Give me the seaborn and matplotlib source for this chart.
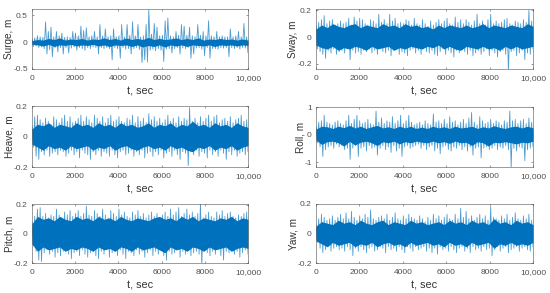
import numpy as np
import pandas as pd
import matplotlib
matplotlib.use("Agg")
import matplotlib.pyplot as plt
import seaborn as sns

# Peak values, one per 125 s of record
surge_up = [.06,.08,.12,.1,.09,.38,.2,.28,.1,.2,.12,.17,.09,.1,.09,.2,.17,.12,.3,.22,.27,.1,.12,.2,.1,.33,.12,.25,.1,.12,.25,.1,.12,.33,.1,.33,.13,.38,.12,.33,.1,.12,.33,.6,.15,.35,.28,.12,.13,.4,.45,.12,.1,.2,.13,.33,.3,.13,.28,.12,.1,.33,.13,.2,.12,.4,.12,.1,.2,.1,.12,.1,.1,.25,.1,.12,.2,.1,.35,.1]
surge_dn = [-.08,-.07,-.1,-.09,-.12,-.22,-.14,-.27,-.1,-.18,-.1,-.22,-.1,-.2,-.11,-.09,-.15,-.1,-.12,-.15,-.1,-.12,-.09,-.1,-.22,-.1,-.12,-.1,-.12,-.33,-.1,-.12,-.3,-.1,-.13,-.12,-.22,-.12,-.1,-.14,-.38,-.33,-.37,-.15,-.13,-.16,-.12,-.15,-.36,-.13,-.12,-.2,-.12,-.1,-.22,-.11,-.12,-.1,-.3,-.22,-.11,-.1,-.13,-.25,-.1,-.3,-.12,-.12,-.13,-.1,-.11,-.1,-.27,-.1,-.12,-.1,-.13,-.1,-.11,-.2]
sway_up = [.09,.11,.13,.16,.1,.12,.13,.09,.1,.12,.1,.11,.14,.09,.15,.12,.14,.13,.1,.09,.13,.12,.1,.17,.11,.13,.1,.17,.12,.14,.1,.11,.1,.13,.12,.09,.14,.1,.09,.13,.1,.08,.12,.09,.11,.13,.1,.12,.14,.1,.09,.15,.11,.13,.1,.13,.11,.09,.12,.17,.1,.12,.09,.13,.17,.1,.12,.1,.11,.13,.14,.1,.09,.12,.11,.1,.13,.11,.2,.12]
sway_dn = [-.09,-.11,-.13,-.16,-.1,-.12,-.09,-.13,-.11,-.1,-.12,-.09,-.17,-.1,-.12,-.11,-.13,-.1,-.11,-.09,-.12,-.1,-.13,-.09,-.11,-.12,-.1,-.14,-.1,-.09,-.13,-.11,-.12,-.14,-.1,-.09,-.12,-.1,-.13,-.09,-.11,-.12,-.1,-.13,-.14,-.11,-.09,-.13,-.1,-.12,-.15,-.1,-.12,-.09,-.11,-.13,-.1,-.14,-.12,-.1,-.13,-.11,-.09,-.14,-.1,-.12,-.15,-.11,-.1,-.13,-.26,-.11,-.1,-.14,-.12,-.1,-.17,-.12,-.13,-.09]
heave_up = [.07,.13,.14,.11,.09,.12,.1,.08,.13,.11,.09,.12,.14,.1,.13,.09,.1,.12,.14,.1,.13,.11,.09,.14,.12,.1,.13,.09,.12,.14,.1,.11,.13,.1,.09,.12,.11,.14,.09,.13,.1,.12,.09,.15,.11,.13,.1,.12,.09,.11,.14,.1,.12,.09,.13,.1,.12,.11,.19,.1,.12,.09,.13,.1,.12,.14,.1,.13,.14,.09,.11,.12,.1,.13,.09,.11,.12,.14,.1,.11]
heave_dn = [-.07,-.13,-.15,-.1,-.12,-.09,-.13,-.11,-.1,-.12,-.09,-.1,-.13,-.11,-.09,-.12,-.1,-.14,-.09,-.11,-.12,-.15,-.1,-.12,-.09,-.13,-.1,-.11,-.13,-.09,-.12,-.14,-.1,-.09,-.12,-.11,-.09,-.13,-.1,-.12,-.09,-.14,-.11,-.1,-.13,-.1,-.12,-.09,-.14,-.11,-.1,-.13,-.09,-.12,-.15,-.1,-.11,-.19,-.1,-.12,-.09,-.13,-.1,-.11,-.14,-.09,-.12,-.1,-.13,-.09,-.11,-.15,-.1,-.12,-.09,-.13,-.11,-.1,-.12,-.1]
roll_up = [.3,.45,.5,.7,.45,.4,.35,.45,.5,.4,.35,.5,.7,.4,.55,.7,.5,.4,.45,.55,.4,.35,.85,.45,.6,.4,.5,.45,.65,.4,.5,.7,.4,.5,.7,.45,.35,.4,.45,.35,.5,.4,.35,.75,.45,.5,.4,.55,.4,.65,.45,.5,.35,.45,.55,.4,.6,.8,.45,.35,.65,.5,.4,.45,.55,.4,.5,.45,.35,.5,.45,.85,.5,.55,.4,.5,.55,.4,.6,.45]
roll_dn = [-.3,-.45,-.8,-.55,-.45,-.4,-.5,-.35,-.45,-.4,-.55,-.5,-.9,-.5,-.4,-.8,-.5,-.45,-.6,-.4,-.5,-.45,-.75,-.5,-.4,-.55,-.45,-.65,-.4,-.6,-.5,-.8,-.45,-.4,-.5,-.45,-.4,-.35,-.5,-.4,-.55,-.45,-.4,-.6,-.5,-.7,-.45,-.4,-.55,-.6,-.45,-.5,-.4,-.55,-.45,-.6,-.45,-.75,-.5,-.45,-.85,-.5,-.45,-.55,-.5,-.4,-.55,-.45,-.5,-.4,-.55,-1.2,-.5,-.6,-.45,-.5,-.95,-.55,-.5,-.45]
pitch_up = [.08,.12,.17,.18,.12,.14,.11,.13,.12,.17,.13,.11,.15,.13,.16,.12,.14,.16,.12,.14,.19,.13,.12,.16,.14,.12,.17,.13,.11,.16,.14,.12,.17,.13,.15,.12,.11,.15,.13,.16,.12,.14,.11,.13,.15,.12,.14,.11,.13,.15,.12,.17,.13,.15,.18,.12,.14,.17,.13,.15,.12,.14,.22,.11,.13,.15,.12,.11,.15,.13,.16,.12,.14,.15,.12,.11,.13,.12,.14,.15]
pitch_dn = [-.08,-.12,-.18,-.19,-.13,-.11,-.14,-.12,-.16,-.13,-.15,-.12,-.11,-.14,-.17,-.13,-.12,-.15,-.11,-.14,-.16,-.13,-.12,-.15,-.17,-.12,-.14,-.11,-.16,-.13,-.12,-.15,-.11,-.14,-.17,-.12,-.13,-.15,-.11,-.14,-.12,-.16,-.13,-.11,-.15,-.12,-.14,-.11,-.15,-.18,-.12,-.14,-.13,-.11,-.16,-.12,-.14,-.11,-.15,-.13,-.12,-.14,-.22,-.11,-.13,-.15,-.12,-.14,-.11,-.15,-.18,-.12,-.13,-.11,-.14,-.12,-.16,-.13,-.11,-.14]
yaw_up = [.06,.1,.13,.11,.09,.1,.12,.09,.11,.13,.1,.14,.1,.15,.11,.09,.12,.1,.13,.11,.16,.1,.09,.11,.12,.1,.13,.09,.11,.14,.1,.09,.12,.1,.13,.11,.1,.09,.12,.1,.08,.11,.09,.13,.1,.12,.09,.11,.13,.1,.09,.13,.1,.17,.11,.15,.1,.12,.09,.11,.13,.1,.12,.09,.18,.11,.1,.09,.12,.1,.13,.09,.11,.14,.1,.09,.12,.1,.13,.09]
yaw_dn = [-.06,-.1,-.13,-.11,-.09,-.12,-.1,-.09,-.11,-.1,-.12,-.09,-.11,-.15,-.1,-.12,-.09,-.11,-.13,-.1,-.09,-.12,-.11,-.09,-.1,-.13,-.09,-.11,-.1,-.12,-.09,-.11,-.13,-.09,-.1,-.12,-.09,-.11,-.1,-.09,-.12,-.1,-.13,-.1,-.14,-.09,-.11,-.1,-.12,-.09,-.11,-.13,-.1,-.09,-.12,-.1,-.13,-.09,-.11,-.1,-.12,-.09,-.11,-.1,-.15,-.11,-.09,-.12,-.1,-.09,-.13,-.11,-.1,-.09,-.12,-.1,-.09,-.11,-.12,-.09]

# Edges of the solid core of each trace, read per 250 s
surge_cu = [.03,.05,.04,.07,.05,.08,.04,.06,.05,.07,.04,.06,.05,.08,.05,.07,.04,.08,.05,.07,.05,.09,.05,.07,.05,.06,.08,.05,.07,.05,.08,.04,.06,.05,.07,.05,.06,.04,.06,.04]
surge_cd = [-.04,-.05,-.07,-.04,-.08,-.05,-.06,-.04,-.07,-.05,-.06,-.04,-.07,-.05,-.08,-.05,-.06,-.05,-.08,-.05,-.09,-.06,-.08,-.05,-.09,-.05,-.07,-.05,-.08,-.05,-.06,-.07,-.05,-.08,-.05,-.06,-.05,-.07,-.05,-.06]
sway_cu = [.06,.09,.07,.1,.08,.07,.09,.1,.07,.09,.08,.07,.1,.08,.09,.07,.1,.08,.09,.07,.08,.06,.09,.07,.09,.08,.07,.09,.07,.08,.1,.07,.09,.08,.07,.09,.08,.07,.1,.08]
sway_cd = [-.06,-.08,-.09,-.07,-.1,-.08,-.09,-.07,-.08,-.1,-.07,-.09,-.08,-.07,-.1,-.08,-.09,-.07,-.08,-.09,-.07,-.08,-.06,-.09,-.07,-.09,-.1,-.07,-.08,-.09,-.07,-.09,-.08,-.1,-.07,-.09,-.07,-.09,-.08,-.07]
heave_cu = [.05,.08,.07,.09,.06,.08,.07,.06,.09,.07,.08,.06,.09,.07,.08,.06,.09,.07,.08,.06,.07,.09,.06,.08,.07,.09,.06,.08,.07,.1,.07,.08,.06,.09,.07,.08,.06,.09,.07,.06]
heave_cd = [-.05,-.07,-.09,-.06,-.08,-.07,-.09,-.06,-.08,-.07,-.06,-.09,-.07,-.08,-.06,-.09,-.07,-.06,-.08,-.09,-.07,-.06,-.08,-.07,-.09,-.06,-.08,-.07,-.09,-.1,-.07,-.08,-.06,-.09,-.07,-.08,-.06,-.09,-.07,-.06]
roll_cu = [.2,.3,.28,.22,.3,.25,.33,.24,.3,.22,.28,.33,.24,.28,.22,.3,.24,.3,.22,.27,.22,.3,.24,.28,.22,.3,.24,.26,.3,.22,.28,.24,.32,.26,.22,.28,.3,.24,.3,.24]
roll_cd = [-.2,-.36,-.26,-.24,-.3,-.42,-.25,-.38,-.28,-.24,-.3,-.4,-.26,-.3,-.24,-.34,-.26,-.3,-.24,-.28,-.3,-.24,-.3,-.26,-.32,-.24,-.3,-.28,-.4,-.26,-.3,-.42,-.28,-.3,-.26,-.3,-.34,-.28,-.3,-.24]
pitch_cu = [.07,.12,.1,.11,.09,.12,.1,.09,.12,.1,.11,.09,.12,.1,.11,.09,.12,.1,.09,.11,.1,.09,.11,.12,.1,.11,.09,.12,.1,.12,.09,.11,.1,.09,.11,.1,.12,.09,.11,.1]
pitch_cd = [-.07,-.12,-.09,-.11,-.1,-.09,-.12,-.1,-.11,-.09,-.1,-.12,-.09,-.11,-.1,-.12,-.09,-.1,-.12,-.09,-.11,-.1,-.09,-.11,-.13,-.09,-.11,-.1,-.12,-.09,-.1,-.12,-.09,-.11,-.1,-.09,-.12,-.1,-.09,-.1]
yaw_cu = [.05,.08,.07,.06,.09,.07,.08,.06,.09,.07,.06,.08,.09,.06,.08,.07,.06,.09,.07,.08,.06,.07,.08,.06,.09,.07,.08,.06,.09,.07,.08,.06,.1,.07,.08,.06,.09,.07,.08,.06]
yaw_cd = [-.05,-.07,-.09,-.06,-.08,-.07,-.06,-.09,-.07,-.08,-.06,-.09,-.07,-.06,-.08,-.07,-.09,-.06,-.08,-.07,-.06,-.08,-.07,-.09,-.06,-.08,-.07,-.09,-.06,-.08,-.07,-.06,-.1,-.07,-.08,-.06,-.08,-.07,-.08,-.06]

names = ["Surge, m", "Sway, m", "Heave, m", "Roll, m", "Pitch, m", "Yaw, m"]
uppers = [surge_up, sway_up, heave_up, roll_up, pitch_up, yaw_up]
lowers = [surge_dn, sway_dn, heave_dn, roll_dn, pitch_dn, yaw_dn]
core_up = [surge_cu, sway_cu, heave_cu, roll_cu, pitch_cu, yaw_cu]
core_dn = [surge_cd, sway_cd, heave_cd, roll_cd, pitch_cd, yaw_cd]
yticks = [[-.5, 0, .5], [-.2, 0, .2], [-.2, 0, .2], [-1, 0, 1], [-.2, 0, .2], [-.2, 0, .2]]
yticklabels = [["-0.5", "0", "0.5"], ["-0.2", "0", "0.2"], ["-0.2", "0", "0.2"], ["-1", "0", "1"], ["-0.2", "0", "0.2"], ["-0.2", "0", "0.2"]]
ylims = [(-.5, .62), (-.24, .21), (-.2, .2), (-1.18, 1), (-.2, .205), (-.2, .2)]
boxes = [(32, 9, 248, 69), (316, 9, 533, 69), (32, 106, 248, 167), (316, 107, 533, 167), (32, 204, 248, 263), (316, 204, 533, 263)]
xticks = [0, 2000, 4000, 6000, 8000, 10000]
xticklabels = ["0", "2000", "4000", "6000", "8000", "10,000"]
BLUE = "#0072BD"

W, H = 550, 293
sns.set_theme(style="white")
plt.rcParams["font.family"] = ["Liberation Sans", "DejaVu Sans"]
fig = plt.figure(figsize=(W / 100, H / 100), dpi=100)
for name, up, dn, cu, cd, yt, ytl, yl, (x0, y0, x1, y1) in zip(names, uppers, lowers, core_up, core_dn, yticks, yticklabels, ylims, boxes):
    ax = fig.add_axes([x0 / W, 1 - y1 / H, (x1 - x0) / W, (y1 - y0) / H])
    vals = np.column_stack([up, dn]).ravel()
    df = pd.DataFrame({"t": np.linspace(0, 10000, vals.size), "v": vals})
    sns.lineplot(data=df, x="t", y="v", ax=ax, color=BLUE, lw=0.6, alpha=0.7,
                 estimator=None, sort=False)
    tc = np.linspace(0, 10000, len(cu))
    ax.fill_between(tc, cd, cu, color=BLUE, lw=0)
    ax.set_xlim(0, 10000)
    ax.set_ylim(*yl)
    ax.set_xticks(xticks, xticklabels)
    ax.set_yticks(yt, ytl)
    ax.tick_params(direction="in", length=1.5, width=0.4, colors="#505050",
                   labelsize=6.0, pad=4.4, top=True, right=True, bottom=True, left=True)
    ax.tick_params(axis="y", pad=3)
    ax.set_xlabel("t, sec", fontsize=7.8, color="#333333", labelpad=3.4)
    ax.set_ylabel(name, fontsize=7.2, color="#333333", labelpad=-0.5)
    for s in ax.spines.values():
        s.set_linewidth(0.4)
        s.set_color("#505050")
fig.savefig("out.png", dpi=100)
